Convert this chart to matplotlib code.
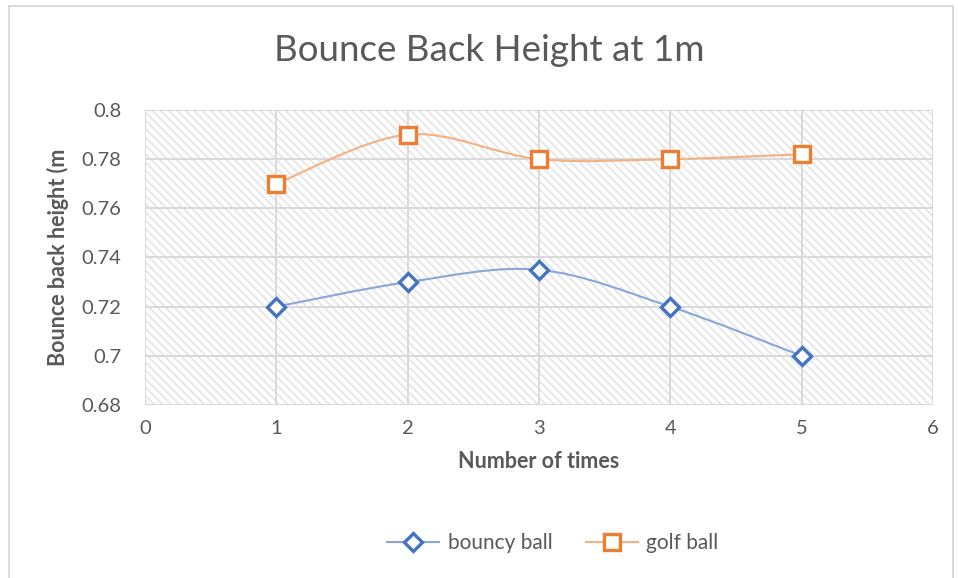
import matplotlib.pyplot as plt
from matplotlib.path import Path
from matplotlib.patches import PathPatch, Rectangle
from matplotlib.lines import Line2D

times = [1, 2, 3, 4, 5]
bouncy = [0.72, 0.73, 0.735, 0.72, 0.70]
golf = [0.77, 0.79, 0.78, 0.78, 0.782]
x_ticks = [0, 1, 2, 3, 4, 5, 6]
y_ticks = [0.68, 0.70, 0.72, 0.74, 0.76, 0.78, 0.80]
y_labels = ['0.68', '0.7', '0.72', '0.74', '0.76', '0.78', '0.8']

plt.rcParams['font.family'] = ['Lato', 'DejaVu Sans']
plt.rcParams['hatch.color'] = '#e6e6e6'
plt.rcParams['hatch.linewidth'] = 1.3


def smooth_path(xs, ys):
    # catmull-rom style bezier, like excel's smoothed line
    pts = list(zip(xs, ys))
    verts = [pts[0]]
    codes = [Path.MOVETO]
    n = len(pts)
    for i in range(n - 1):
        p0 = pts[i - 1] if i > 0 else pts[i]
        p1 = pts[i]
        p2 = pts[i + 1]
        p3 = pts[i + 2] if i + 2 < n else pts[i + 1]
        c1 = (p1[0] + (p2[0] - p0[0]) / 6, p1[1] + (p2[1] - p0[1]) / 6)
        c2 = (p2[0] - (p3[0] - p1[0]) / 6, p2[1] - (p3[1] - p1[1]) / 6)
        verts += [c1, c2, p2]
        codes += [Path.CURVE4] * 3
    return Path(verts, codes)


fig = plt.figure(figsize=(9.58, 5.78), dpi=100)
ax = fig.add_axes([0.1514, 0.2993, 0.8225, 0.5104])

# chart border
fig.patches.append(Rectangle((8.5 / 958, -0.01), (953 - 8.5) / 958, 1 - 5.5 / 578 + 0.01,
                             transform=fig.transFigure, fill=False,
                             edgecolor='#d9d9d9', linewidth=1.3))

ax.set_xlim(0, 6)
ax.set_ylim(0.68, 0.80)
# hatched plot area
ax.add_patch(Rectangle((0, 0), 1, 1, transform=ax.transAxes, facecolor='white',
                       edgecolor='#e6e6e6', linewidth=0, hatch='\\\\\\\\', zorder=0.5))
ax.set_xticks(x_ticks)
ax.set_yticks(y_ticks)
ax.set_yticklabels(y_labels)
ax.grid(True, color='#d9d9d9', linewidth=1.4, zorder=1)
for s in ax.spines.values():
    s.set_visible(False)
ax.tick_params(length=0, labelsize=14.5, colors='#595959')
ax.tick_params(axis='y', pad=17)
ax.tick_params(axis='x', pad=11)

ax.add_patch(PathPatch(smooth_path(times, bouncy), fill=False, edgecolor='#8aa6dc',
                       linewidth=1.5, zorder=3))
ax.add_patch(PathPatch(smooth_path(times, golf), fill=False, edgecolor='#f4b183',
                       linewidth=1.5, zorder=3))
ax.plot(times, bouncy, linestyle='none', marker='D', markersize=9.5,
        markerfacecolor='white', markeredgecolor='#4472c4', markeredgewidth=2.4, zorder=4)
ax.plot(times, golf, linestyle='none', marker='s', markersize=11,
        markerfacecolor='white', markeredgecolor='#ed7d31', markeredgewidth=2.4, zorder=4)

ax.set_xlabel('Number of times', fontsize=15.5, fontweight='bold', color='#595959', labelpad=10)
ax.set_ylabel('Bounce back height (m', fontsize=15.5, fontweight='bold', color='#595959', labelpad=9)
fig.text(0.511, 0.913, 'Bounce Back Height at 1m', ha='center', va='center',
         fontsize=26.5, color='#595959')

handles = [
    Line2D([], [], color='#8aa6dc', linewidth=1.5, marker='D', markersize=9.5,
           markerfacecolor='white', markeredgecolor='#4472c4', markeredgewidth=2.4),
    Line2D([], [], color='#f4b183', linewidth=1.5, marker='s', markersize=11,
           markerfacecolor='white', markeredgecolor='#ed7d31', markeredgewidth=2.4),
]
fig.legend(handles, ['bouncy ball', 'golf ball'], loc='center', bbox_to_anchor=(0.577, 0.06),
           ncol=2, frameon=False, fontsize=15, labelcolor='#595959',
           handlelength=2.5, columnspacing=1.6, handletextpad=0.4)

plt.savefig('out.png')
plt.close()
